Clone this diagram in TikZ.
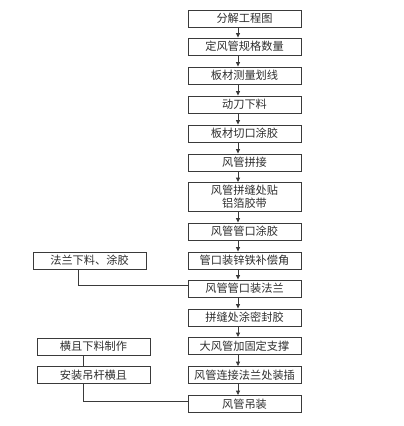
\documentclass[tikz,border=0pt]{standalone}
\usepackage{fontspec}
\usepackage{xcolor}
\newfontfamily\cjk{Noto Sans CJK SC}
\usetikzlibrary{arrows.meta, positioning}
\definecolor{lineg}{HTML}{3A3A3A}
\definecolor{textg}{HTML}{2E2E2E}

\begin{document}
\begin{tikzpicture}[x=1pt, y=-1pt, every path/.style={lineg, line width=0.85pt},
        every node/.style={font=\cjk\fontsize{11.2}{13}\selectfont, text=textg, align=center},
        stepbox/.style={draw, minimum width=113pt, minimum height=17pt, inner sep=0pt},
        flow/.style={-{Triangle[length=4.5pt, width=4pt]}}]
        \useasboundingbox (0,0) rectangle (404,426);
        % main column
        \node[stepbox] (m1) at (244.5,18.5) {分解工程图};
        \node[stepbox] (m2) at (244.5,46.5) {定风管规格数量};
        \node[stepbox] (m3) at (244.5,75.5) {板材测量划线};
        \node[stepbox] (m4) at (244.5,104.5) {动刀下料};
        \node[stepbox] (m5) at (244.5,133.5) {板材切口涂胶};
        \node[stepbox] (m6) at (244.5,162.5) {风管拼接};
        \node[stepbox, minimum height=29pt] (m7) at (244.5,197) {风管拼缝处贴\\铝箔胶带};
        \node[stepbox] (m8) at (244.5,231.5) {风管管口涂胶};
        \node[stepbox] (m9) at (244.5,260.5) {管口装锌铁补偿角};
        \node[stepbox] (m10) at (244.5,288.5) {风管管口装法兰};
        \node[stepbox] (m11) at (244.5,317.5) {拼缝处涂密封胶};
        \node[stepbox] (m12) at (244.5,346) {大风管加固定支撑};
        \node[stepbox] (m13) at (244.5,375) {风管连接法兰处装插};
        \node[stepbox] (m14) at (244.5,404) {风管吊装};
        % side branches
        \node[stepbox] (fl) at (89.5,260.5) {法兰下料、涂胶};
        \node[stepbox] (hq1) at (93.5,346.5) {横且下料制作};
        \node[stepbox] (hq2) at (93.5,375) {安装吊杆横且};
        \foreach \a/\b in {m1/m2, m2/m3, m3/m4, m4/m5, m5/m6, m6/m7, m7/m8, m8/m9,
                m9/m10, m10/m11, m11/m12, m12/m13, m13/m14}
            \draw[flow] ([xshift=-6.5pt]\a.south) -- ([xshift=-6.5pt]\b.north);
        \draw ([xshift=-11.5pt]fl.south) |- ([yshift=3.5pt]m10.west);
        \draw ([xshift=-10.5pt]hq1.south) -- ([xshift=-10.5pt]hq2.north);
        \draw ([xshift=-10.5pt]hq2.south) |- ([yshift=3pt]m14.west);
    \end{tikzpicture}
\end{document}
